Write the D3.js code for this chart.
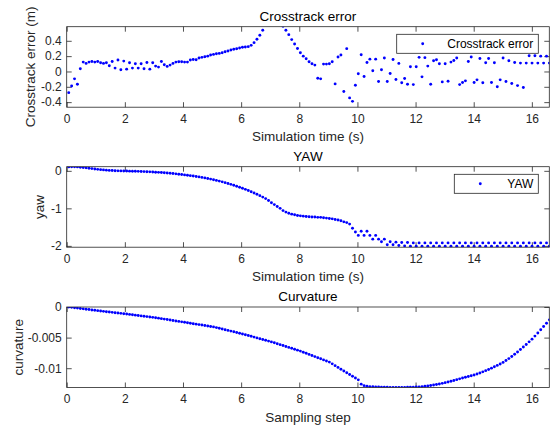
<!DOCTYPE html>
<html>
<head>
<meta charset="utf-8">
<script src="https://cdn.jsdelivr.net/npm/d3@7"></script>
<style>
  body { margin: 0; background: #fff; }
  text { font-family: "Liberation Sans", Arial, Helvetica, sans-serif; }
</style>
</head>
<body>
<svg id="chart" width="555" height="429"></svg>
<script>
/** sample time base (s) */
var t0 = 0.07, dt = 0.0996

/** crosstrack error (m), null = clipped above the axes */
var crosstrack = [
  -0.276, -0.19, -0.096, -0.166, 0.035, 0.122, 0.105, 0.122, 0.13, 0.122,
  0.13, 0.114, 0.105, 0.114, 0.074, 0.13, 0.044, 0.149, 0.022, 0.135,
  0.03, 0.114, 0.044, 0.1, 0.044, 0.1, 0.035, 0.118, 0.03, 0.114,
  0.07, 0.057, 0.13, 0.088, 0.066, 0.083, 0.105, 0.122, 0.127, 0.127,
  0.122, 0.122, 0.149, 0.157, 0.153, 0.175, 0.184, 0.192, 0.2, 0.214,
  0.223, 0.232, 0.236, 0.245, 0.258, 0.267, 0.28, 0.289, 0.297, 0.306,
  0.315, 0.319, 0.324, 0.341, 0.376, 0.42, 0.472, 0.538, null, null,
  null, null, null, null, 0.59, 0.538, 0.48, 0.416, 0.358, 0.30,
  0.245, 0.2, 0.166, 0.127, 0.1, 0.083, -0.088, -0.096, 0.096, 0.096,
  0.1, 0.127, -0.162, 0.188, 0.214, -0.262, 0.298, -0.345, -0.39, -0.18,
  -0.03, 0.219, -0.066, 0.118, 0.161, 0.009, 0.161, -0.131, 0.022, 0.175,
  -0.131, -0.026, 0.157, -0.105, 0.105, -0.148, -0.092, -0.166, 0.062, -0.171,
  0.062, 0.184, -0.07, 0.18, 0.07, -0.166, 0.14, 0.153, 0.1, -0.136,
  0.1, -0.127, 0.122, 0.144, 0.175, -0.171, -0.144, -0.122, 0.131, 0.188,
  -0.144, -0.109, 0.17, -0.148, 0.114, 0.17, -0.144, 0.114, -0.2, -0.109,
  0.175, -0.131, 0.14, -0.157, 0.118, -0.184, 0.109, -0.21, 0.109, 0.206,
  0.109, 0.206, 0.109, 0.2, 0.109, 0.2, 0.109
]

/** yaw (rad) */
var yaw = [
  0.105, 0.107, 0.107, 0.105, 0.095, 0.088, 0.08, 0.07, 0.06, 0.05,
  0.04, 0.032, 0.025, 0.018, 0.012, 0.007, 0.003, 0, -0.002, -0.004,
  -0.006, -0.008, -0.01, -0.012, -0.014, -0.017, -0.02, -0.023, -0.027, -0.031,
  -0.036, -0.041, -0.046, -0.052, -0.058, -0.065, -0.073, -0.081, -0.09, -0.099,
  -0.108, -0.118, -0.128, -0.139, -0.15, -0.162, -0.175, -0.189, -0.204, -0.22,
  -0.237, -0.255, -0.274, -0.294, -0.315, -0.337, -0.36, -0.384, -0.41, -0.437,
  -0.465, -0.494, -0.525, -0.557, -0.59, -0.625, -0.662, -0.7, -0.74, -0.79,
  -0.85, -0.9, -0.95, -1.0, -1.06, -1.1, -1.13, -1.155, -1.17, -1.19,
  -1.2, -1.207, -1.215, -1.225, -1.23, -1.23, -1.24, -1.24, -1.25, -1.26,
  -1.27, -1.28, -1.295, -1.31, -1.33, -1.36, -1.38, -1.42, -1.53, -1.63,
  -1.72, -1.61, -1.72, -1.61, -1.72, -1.82, -1.72, -1.82, -1.89, -1.82,
  -1.97, -1.89, -1.97, -1.9, -1.99, -1.91, -2.0, -1.91, -2.01, -1.92,
  -2.01, -1.92, -2.01, -1.92, -2.01, -1.92, -2.01, -1.92, -2.01, -1.92,
  -2.01, -1.92, -2.01, -1.92, -2.01, -1.92, -2.01, -1.92, -2.01, -1.92,
  -2.01, -1.92, -2.01, -1.92, -2.01, -1.92, -2.01, -1.92, -2.01, -1.92,
  -2.01, -1.92, -2.01, -1.92, -2.01, -1.92, -2.01, -1.92, -2.01, -1.92,
  -2.01, -1.92, -2.01, -1.92, -2.01, -1.92, -2.01
]

/** curvature in thousandths (1/m x 1e-3) */
var curvatureMilli = [
  0, -0.06, -0.12, -0.18, -0.24, -0.3, -0.36, -0.42, -0.48, -0.54,
  -0.6, -0.655, -0.71, -0.765, -0.82, -0.875, -0.93, -0.985, -1.04, -1.095,
  -1.15, -1.21, -1.27, -1.33, -1.39, -1.45, -1.51, -1.57, -1.63, -1.69,
  -1.75, -1.825, -1.9, -1.975, -2.05, -2.125, -2.2, -2.275, -2.35, -2.425,
  -2.5, -2.575, -2.65, -2.725, -2.8, -2.875, -2.95, -3.025, -3.1, -3.175,
  -3.25, -3.365, -3.48, -3.595, -3.71, -3.825, -3.94, -4.055, -4.17, -4.285,
  -4.4, -4.53, -4.66, -4.79, -4.92, -5.05, -5.18, -5.31, -5.44, -5.57,
  -5.7, -5.85, -6.0, -6.15, -6.3, -6.45, -6.6, -6.75, -6.9, -7.05,
  -7.2, -7.38, -7.56, -7.74, -7.92, -8.1, -8.28, -8.46, -8.64, -8.82,
  -9.0, -9.29, -9.58, -9.87, -10.16, -10.45, -10.74, -11.03, -11.32, -11.61,
  -11.9, -12.6, -12.85, -12.95, -13.0, -13.03, -13.06, -13.08, -13.1, -13.11,
  -13.12, -13.13, -13.13, -13.14, -13.14, -13.14, -13.13, -13.12, -13.11, -13.09,
  -13.07, -13.04, -13.0, -12.95, -12.89, -12.82, -12.75, -12.67, -12.58, -12.47,
  -12.36, -12.24, -12.12, -12.0, -11.87, -11.74, -11.61, -11.48, -11.35, -11.22,
  -11.1, -10.94, -10.77, -10.59, -10.4, -10.2, -9.99, -9.77, -9.54, -9.3,
  -9.05, -8.75, -8.43, -8.09, -7.73, -7.35, -6.95, -6.54, -6.12, -5.69,
  -5.25, -4.75, -4.24, -3.72, -3.19, -2.65, -2.1
]
var curvature = curvatureMilli.map(function (v) { return v / 1000 })

var xTicks = [0, 2, 4, 6, 8, 10, 12, 14, 16]
var crossTicks = [-0.4, -0.2, 0, 0.2, 0.4]
var yawTicks = [-2, -1, 0]
var curvTicks = [-0.01, -0.005, 0]

var svg = d3.select('#chart')
var left = 66.7, w = 482.6, h = 80.5
var axisColor = '#262626'

function drawPanel (cfg) {
  var g = svg.append('g').attr('transform', 'translate(' + left + ',' + cfg.top + ')')
  var x = d3.scaleLinear().domain([0, 16.6]).range([0, w])
  var y = d3.scaleLinear().domain(cfg.yDomain).range([h, 0])

  g.append('clipPath').attr('id', 'clip_' + cfg.id)
    .append('rect').attr('width', w).attr('height', h)

  /** axes with inward ticks on all four sides */
  var bottom = g.append('g').attr('transform', 'translate(0,' + h + ')')
    .call(d3.axisBottom(x).tickValues(xTicks).tickSizeInner(-5).tickSizeOuter(0).tickPadding(7).tickFormat(function (d) { return String(d) }))
  var leftAx = g.append('g')
    .call(d3.axisLeft(y).tickValues(cfg.yTicks).tickSizeInner(-5).tickSizeOuter(0).tickPadding(5).tickFormat(function (d) { return String(d) }))
  var top = g.append('g')
    .call(d3.axisTop(x).tickValues(xTicks).tickSizeInner(-5).tickSizeOuter(0).tickFormat(''))
  var right = g.append('g').attr('transform', 'translate(' + w + ',0)')
    .call(d3.axisRight(y).tickValues(cfg.yTicks).tickSizeInner(-5).tickSizeOuter(0).tickFormat(''))

  ;[bottom, leftAx, top, right].forEach(function (a) {
    a.attr('font-size', 12).attr('font-family', null)
    a.select('.domain').remove()
    a.selectAll('line').attr('stroke', axisColor).attr('stroke-width', 0.8)
    a.selectAll('text').attr('fill', axisColor)
  })

  /** points */
  var pts = cfg.values.map(function (v, k) { return {t: t0 + k * dt, v: v} })
    .filter(function (d) { return d.v !== null })
  g.append('g').attr('clip-path', 'url(#clip_' + cfg.id + ')')
    .selectAll('circle').data(pts).enter().append('circle')
    .attr('cx', function (d) { return x(d.t) })
    .attr('cy', function (d) { return y(d.v) })
    .attr('r', 1.45)
    .attr('fill', '#0000ff')

  /** box */
  g.append('rect').attr('width', w).attr('height', h)
    .attr('fill', 'none').attr('stroke', axisColor).attr('stroke-width', 0.8)

  /** title and labels */
  g.append('text').attr('x', w / 2).attr('y', -6).attr('text-anchor', 'middle')
    .attr('font-size', 13.5).attr('fill', '#000').text(cfg.title)
  g.append('text').attr('x', w / 2).attr('y', h + 34).attr('text-anchor', 'middle')
    .attr('font-size', 13.5).attr('fill', axisColor).text(cfg.xLabel)
  g.append('text').attr('transform', 'translate(' + (cfg.yLabelX - left) + ',' + (h / 2) + ') rotate(-90)')
    .attr('text-anchor', 'middle').attr('font-size', 13.5).attr('fill', axisColor).text(cfg.yLabel)

  /** legend */
  if (cfg.legend) {
    var lw = cfg.legendWidth
    var lx = w - 11 - lw
    var lg = g.append('g').attr('transform', 'translate(' + lx + ',7.6)')
    lg.append('rect').attr('width', lw).attr('height', 19)
      .attr('fill', '#fff').attr('stroke', axisColor).attr('stroke-width', 0.8)
    lg.append('circle').attr('cx', 26).attr('cy', 9.5).attr('r', 1.45).attr('fill', '#0000ff')
    lg.append('text').attr('x', lw - 5).attr('y', 14).attr('text-anchor', 'end')
      .attr('font-size', 12).attr('fill', '#000').text(cfg.legend)
  }
}

drawPanel({
  id: 'cross', top: 26.7, yDomain: [-0.466, 0.584], yTicks: crossTicks, values: crosstrack,
  title: 'Crosstrack error', xLabel: 'Simulation time (s)', yLabel: 'Crosstrack error (m)', yLabelX: 35.5,
  legend: 'Crosstrack error', legendWidth: 141.6
})
drawPanel({
  id: 'yaw', top: 166.7, yDomain: [-2.035, 0.11], yTicks: yawTicks, values: yaw,
  title: 'YAW', xLabel: 'Simulation time (s)', yLabel: 'yaw', yLabelX: 44.5,
  legend: 'YAW', legendWidth: 84
})
drawPanel({
  id: 'curv', top: 307.0, yDomain: [-0.01315, 0], yTicks: curvTicks, values: curvature,
  title: 'Curvature', xLabel: 'Sampling step', yLabel: 'curvature', yLabelX: 23
})
</script>
</body>
</html>
